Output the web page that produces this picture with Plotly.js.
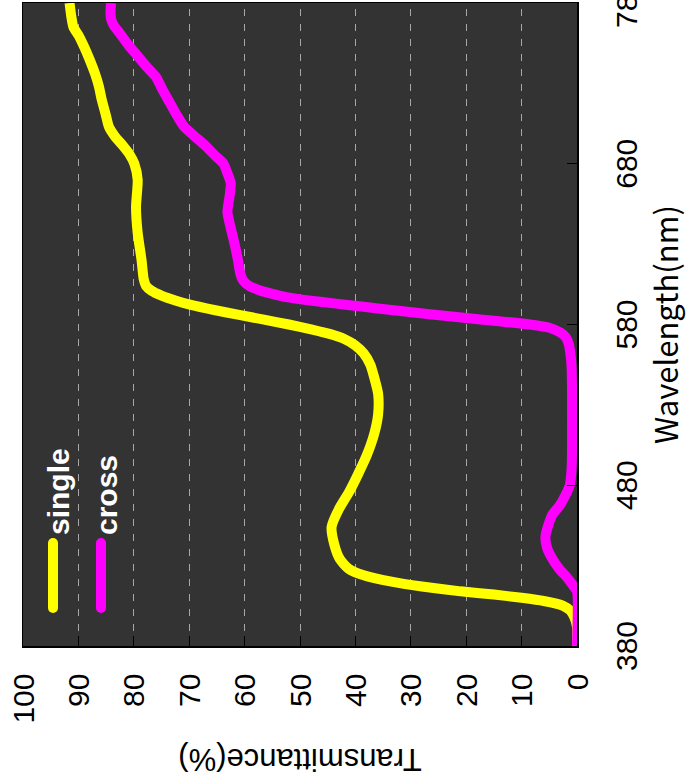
<!DOCTYPE html>
<html>
<head>
<meta charset="utf-8">
<script src="https://cdn.plot.ly/plotly-3.0.1.min.js"></script>
<style>
  html, body { margin: 0; padding: 0; background: #ffffff; overflow: hidden; width: 688px; height: 781px; }
  #chart {
    position: absolute; left: 0; top: 0;
    width: 781px; height: 688px;
    transform-origin: 0 0;
    transform: translateY(781px) rotate(-90deg);
  }
</style>
</head>
<body>
<div id="chart"></div>
<script>
// ---- data ----
const seriesNames = ["single", "cross"];
const seriesColors = ["#ffff00", "#ff00ff"];

const wavelengthSingle = [380,392,398,402,405,408,410,412,414,417,420,424,428,434,443,454,465,476,487,499,512,524,537,547,555,562,567,571,574,577,580,583,586,589,592,595,598,601,604,608,620,637,653,670,680,686,691,697,703,711,720,728,736,745,753,760,765,772,780];
const transmittanceSingle = [0,0,0.5,1.2,2.5,6,10,15,21,28,33.5,38.5,41.2,42.8,43.8,44.3,43.0,41.1,39.5,37.9,36.6,35.9,35.9,36.6,37.3,38.5,40,42,44.5,48,52,56.5,61,65.5,69.5,72.5,75,76.8,77.8,78.2,78.6,79.3,79.6,79.3,79.9,80.8,81.9,83.4,84.5,85.1,85.8,86.3,87.0,88.0,89.0,90.0,90.9,91.3,91.6];

const wavelengthCross = [380,414,417,420,423,428,434,441,448,455,462,467,473,480,489,500,520,540,555,562,568,572,575,578,580,582,584,586.5,589,591,593,595,597,599.5,601.5,604,607.5,612,620,630,640,650,660,668,675,680,685,691,697,703,710,718,726,734,740,747,754,761,766,770,775,780];
const transmittanceCross = [0,0,0.6,1.2,1.9,3.2,4.4,5.4,5.7,5.2,4.4,3.2,2.2,1.3,1.0,0.9,0.9,0.9,1.0,1.2,1.5,2.0,3.0,5.0,8.5,14,20,27,33.5,38.5,43.5,48.5,52.5,55.5,57.5,59.2,60.3,60.8,61.2,61.8,62.5,63.1,62.7,62.5,63.2,63.8,65.3,67,69,70.9,72.2,73.5,74.8,76,77.6,79.3,81,82.5,83.6,84.1,84.2,84.1];

const wavelengthTicks = [380, 480, 580, 680, 780];
const transmittanceTicks = [0,10,20,30,40,50,60,70,80,90,100];
const xTitle = "Wavelength(nm)";
const yTitle = "Transmittance(%)";

// ---- layout constants (unrotated frame) ----
const W = 781, H = 688;
const M = {l: 135, r: 3, t: 23, b: 111};
const PW = W - M.l - M.r, PH = H - M.t - M.b;
const px = u => (u - M.l) / PW;
const py = v => 1 - (v - M.t) / PH;

const traces = [
  {x: wavelengthSingle, y: transmittanceSingle, name: seriesNames[0]},
  {x: wavelengthCross, y: transmittanceCross, name: seriesNames[1]}
].map((t, i) => Object.assign(t, {
  type: "scatter", mode: "lines",
  line: {color: seriesColors[i], width: 10, shape: "spline", smoothing: 0.6},
  showlegend: false, hoverinfo: "skip"
}));

// custom legend (long rounded samples)
const shapes = [], annotations = [];
const legV = [53, 101];
const legTextV = [58, 106];
seriesNames.forEach((name, i) => {
  const v = legV[i], c = seriesColors[i], r = 5;
  shapes.push({type: "line", xref: "paper", yref: "paper", x0: px(173), x1: px(238), y0: py(v), y1: py(v),
               line: {color: c, width: 10}, layer: "above"});
  [173, 238].forEach(u => shapes.push({type: "circle", xref: "paper", yref: "paper",
               x0: px(u - r), x1: px(u + r), y0: py(v + r), y1: py(v - r),
               fillcolor: c, line: {width: 0}, layer: "above"}));
  annotations.push({text: name, xref: "paper", yref: "paper", x: px(244), y: py(legTextV[i]),
               xanchor: "left", yanchor: "middle", showarrow: false,
               font: {family: "Liberation Sans", size: 30, color: "#ffffff", weight: "bold"}});
});

const tickFont = {family: "Liberation Sans", size: 30, color: "#000000"};

const layout = {
  width: W, height: H,
  margin: M,
  paper_bgcolor: "#ffffff",
  plot_bgcolor: "#333333",
  showlegend: false,
  xaxis: {
    range: [380, 780], tickvals: wavelengthTicks, ticktext: wavelengthTicks.map(String),
    ticks: "inside", ticklen: 10, tickwidth: 1, tickcolor: "#000000",
    showline: true, linecolor: "#000000", linewidth: 1.5, mirror: true,
    showgrid: false, zeroline: false,
    tickfont: tickFont, ticklabelstandoff: 22, ticklabeloverflow: "allow",
    title: {text: xTitle, font: {family: "Noto Sans CJK JP", size: 31, color: "#000000"}, standoff: 8}
  },
  yaxis: {
    range: [0, 100], tickvals: transmittanceTicks, ticktext: transmittanceTicks.map(String),
    ticks: "inside", ticklen: 10, tickwidth: 1, tickcolor: "#000000",
    showline: true, linecolor: "#000000", linewidth: 1.5, mirror: true,
    showgrid: true, gridcolor: "#a8a8a8", gridwidth: 1, griddash: "7px,8px",
    zeroline: false,
    tickfont: tickFont, ticklabelstandoff: 20, ticklabeloverflow: "allow",
    title: {text: yTitle, font: {family: "Liberation Sans", size: 31, color: "#000000"}, standoff: 15}
  },
  shapes: shapes,
  annotations: annotations
};

Plotly.newPlot("chart", traces, layout, {staticPlot: true, displayModeBar: false});
</script>
</body>
</html>
